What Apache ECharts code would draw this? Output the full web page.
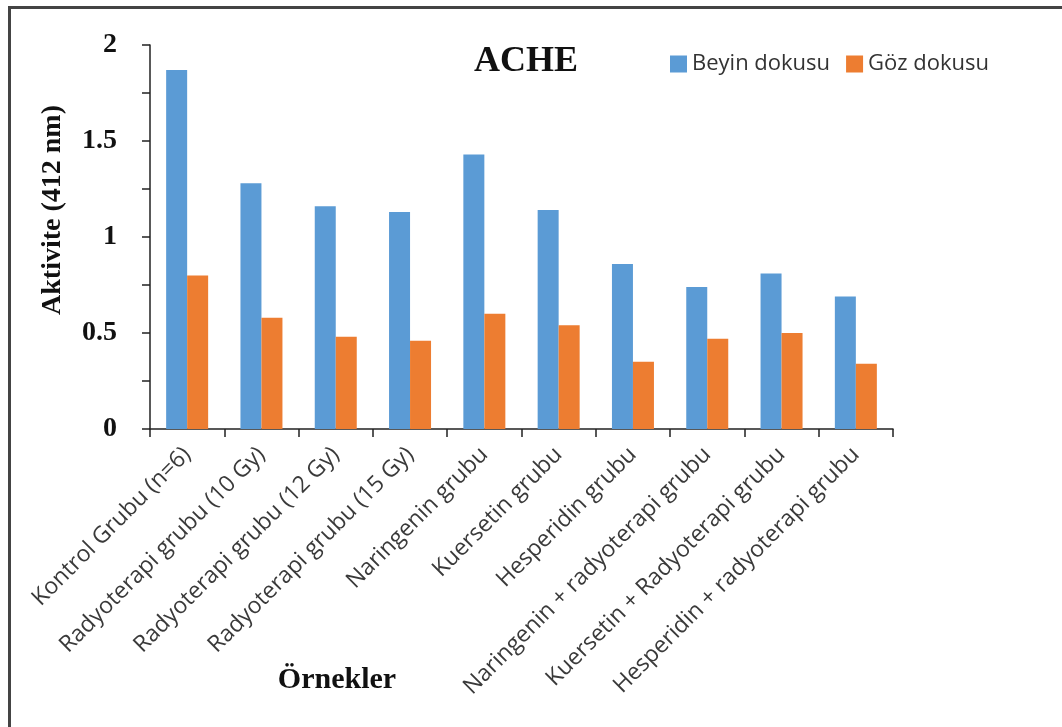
<!DOCTYPE html>
<html>
<head>
<meta charset="utf-8">
<title>ACHE</title>
<script src="https://cdn.jsdelivr.net/npm/echarts@6/dist/echarts.min.js"></script>
<style>
  html, body { margin: 0; padding: 0; background: #ffffff; }
  #chart { width: 1062px; height: 727px; }
</style>
</head>
<body>
<div id="chart"></div>
<script>
// Groups on the category axis
const categories = [
  'Kontrol Grubu (n=6)',
  'Radyoterapi grubu (10 Gy)',
  'Radyoterapi grubu (12 Gy)',
  'Radyoterapi grubu (15 Gy)',
  'Naringenin grubu',
  'Kuersetin grubu',
  'Hesperidin grubu',
  'Naringenin + radyoterapi grubu',
  'Kuersetin + Radyoterapi grubu',
  'Hesperidin + radyoterapi grubu'
];

// AChE activity (412 nm) per tissue
const beyinDokusu = [1.87, 1.28, 1.16, 1.13, 1.43, 1.14, 0.86, 0.74, 0.81, 0.69];
const gozDokusu   = [0.80, 0.58, 0.48, 0.46, 0.60, 0.54, 0.35, 0.47, 0.50, 0.34];

// Value axis: ticks every 0.25, labels every 0.5
const yTickLabels = { 0: '0', 0.5: '0.5', 1: '1', 1.5: '1.5', 2: '2' };

const chart = echarts.init(document.getElementById('chart'), null, { renderer: 'canvas' });

const serif = '"Liberation Serif", "Times New Roman", serif';
const sans = '"Open Sans", "Noto Sans", sans-serif';

chart.setOption({
  animation: false,
  backgroundColor: '#ffffff',
  grid: { left: 150, right: 169, top: 45, bottom: 298, containLabel: false },
  legend: {
    left: 665,
    top: 48,
    itemWidth: 17,
    itemHeight: 17,
    itemGap: 16,
    icon: 'rect',
    textStyle: { fontFamily: sans, fontSize: 22, color: '#333333', padding: [0, 0, 0, 0] },
    data: ['Beyin dokusu', 'Göz dokusu']
  },
  xAxis: {
    type: 'category',
    data: categories,
    axisLine: { show: true, lineStyle: { color: '#222222', width: 1.5 } },
    axisTick: { show: true, alignWithLabel: false, length: 8, lineStyle: { color: '#222222', width: 1.5 } },
    axisLabel: {
      interval: 0,
      rotate: 45,
      margin: 22,
      fontFamily: sans,
      fontSize: 23,
      color: '#3a3a3a'
    },
    splitLine: { show: false }
  },
  yAxis: {
    type: 'value',
    min: 0,
    max: 2,
    interval: 0.25,
    axisLine: { show: true, lineStyle: { color: '#222222', width: 1.5 } },
    axisTick: { show: true, inside: false, length: 8, lineStyle: { color: '#222222', width: 1.5 } },
    axisLabel: {
      margin: 33,
      fontFamily: serif,
      fontWeight: 'bold',
      fontSize: 28,
      color: '#111111',
      formatter: function (v) {
        const key = Math.round(v * 100) / 100;
        return yTickLabels.hasOwnProperty(key) ? yTickLabels[key] : '';
      }
    },
    splitLine: { show: false }
  },
  series: [
    {
      name: 'Beyin dokusu',
      type: 'bar',
      data: beyinDokusu,
      barWidth: 21,
      barGap: '0%',
      itemStyle: { color: '#5B9BD5' }
    },
    {
      name: 'Göz dokusu',
      type: 'bar',
      data: gozDokusu,
      barWidth: 21,
      barGap: '0%',
      itemStyle: { color: '#ED7D31' }
    }
  ],
  graphic: [
    {
      // frame around the figure
      type: 'rect',
      shape: { x: 9.5, y: 7.5, width: 1200, height: 900 },
      style: { fill: 'none', stroke: '#444444', lineWidth: 3 },
      silent: true
    },
    {
      type: 'text',
      x: 526, y: 62,
      style: {
        text: 'ACHE',
        font: 'bold 36px ' + serif,
        fill: '#111111',
        textAlign: 'center',
        textVerticalAlign: 'middle'
      }
    },
    {
      type: 'text',
      x: 53, y: 210,
      rotation: Math.PI / 2,
      style: {
        text: 'Aktivite (412 nm)',
        font: 'bold 28px ' + serif,
        fill: '#111111',
        textAlign: 'center',
        textVerticalAlign: 'middle'
      }
    },
    {
      type: 'text',
      x: 337, y: 680,
      style: {
        text: 'Örnekler',
        font: 'bold 30px ' + serif,
        fill: '#111111',
        textAlign: 'center',
        textVerticalAlign: 'middle'
      }
    }
  ]
});
</script>
</body>
</html>
